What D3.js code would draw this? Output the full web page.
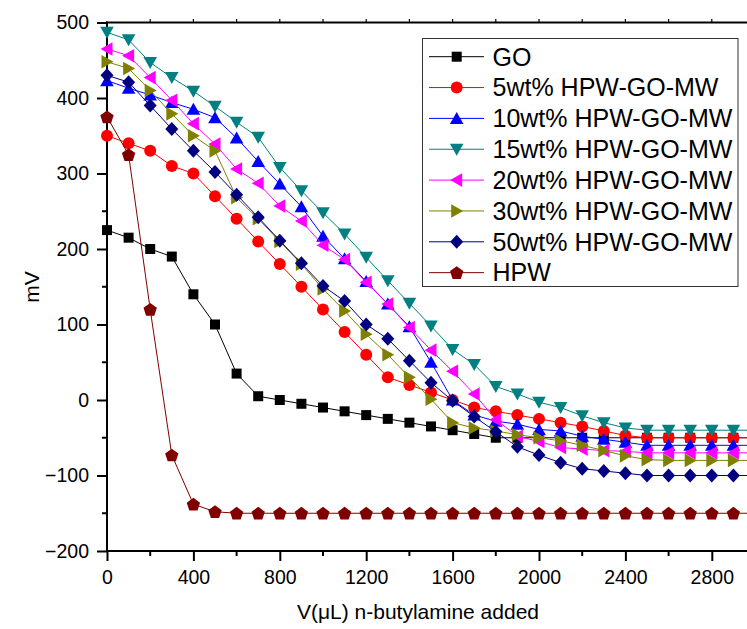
<!DOCTYPE html>
<html><head><meta charset="utf-8">
<script src="https://cdn.jsdelivr.net/npm/d3@7/dist/d3.min.js"></script>
<style>body{margin:0;background:#fff} text{font-family:"Liberation Sans",Arial,sans-serif;fill:#000}</style>
</head><body><svg id="c" width="747" height="629"></svg>
<script>
// ---- data ----
const volumes = [0,100,200,300,400,500,600,700,800,900,1000,1100,1200,1300,1400,1500,1600,1700,1800,1900,2000,2100,2200,2300,2400,2500,2600,2700,2800,2900,3000];
const seriesNames = ["GO","5wt% HPW-GO-MW","10wt% HPW-GO-MW","15wt% HPW-GO-MW","20wt% HPW-GO-MW","30wt% HPW-GO-MW","50wt% HPW-GO-MW","HPW"];
const goValues    = [225,215,200,190,140,100,35,5,0,-5,-10,-15,-20,-25,-30,-35,-40,-45,-50,-50,-50,-50,-50,-50,-50,-50,-50,-50,-50,-50,-50];
const wt5Values   = [350,340,330,310,300,270,240,210,180,150,120,90,60,30,20,10,0,-10,-15,-20,-25,-30,-35,-41,-47,-50,-50,-50,-50,-50,-50];
const wt10Values  = [423,413,404,394,385,374,347,316,286,256,217,187,157,127,97,50,0,-20,-28,-32,-39,-41,-48,-52,-56,-60,-60,-60,-60,-60,-60];
const wt15Values  = [487,477,447,427,409,389,368,348,308,277,248,220,189,158,128,98,67,47,18,8,-3,-10,-21,-30,-37,-40,-40,-40,-40,-40,-40];
const wt20Values  = [465,456,427,397,366,339,306,287,257,237,205,186,156,127,96,66,38,8,-26,-48,-55,-63,-65,-67,-68,-70,-70,-70,-70,-70,-70];
const wt30Values  = [448,439,410,379,350,330,268,240,210,180,147,118,87,60,30,1,-30,-37,-41,-46,-50,-54,-60,-67,-74,-79,-80,-80,-80,-80,-80];
const wt50Values  = [430,421,390,359,330,302,272,242,211,181,151,131,100,81,52,23,-1,-22,-42,-62,-73,-83,-91,-94,-97,-100,-100,-100,-100,-100,-100];
const hpwValues   = [375,325,120,-73,-138,-148,-150,-150,-150,-150,-150,-150,-150,-150,-150,-150,-150,-150,-150,-150,-150,-150,-150,-150,-150,-150,-150,-150,-150,-150,-150];
const xTickLabels = [0,400,800,1200,1600,2000,2400,2800];
const yTickLabels = [-200,-100,0,100,200,300,400,500];

// ---- styles ----
const colors  = ["#000000","#ff0000","#0000ff","#008080","#ff00ff","#808000","#000080","#800000"];
const symbols = ["square","circle","triUp","triDown","triLeft","triRight","diamond","pentagon"];
const allValues = [goValues,wt5Values,wt10Values,wt15Values,wt20Values,wt30Values,wt50Values,hpwValues];

const svg = d3.select("#c");
const x = d3.scaleLinear().domain([0,3000]).range([107,755]);
const y = d3.scaleLinear().domain([-200,500]).range([551,22.5]);

function symPath(t){
  switch(t){
    case "square": return "M-5,-5H5V5H-5Z";
    case "circle": return "M6,0A6,6 0 1,1 -6,0A6,6 0 1,1 6,0Z";
    case "triUp": return "M0,-6.5L6.8,5.5L-6.8,5.5Z";
    case "triDown": return "M0,6.5L6.8,-5.5L-6.8,-5.5Z";
    case "triLeft": return "M-6.5,0L5.5,-6.8L5.5,6.8Z";
    case "triRight": return "M6.5,0L-5.5,-6.8L-5.5,6.8Z";
    case "diamond": return "M0,-7L6.5,0L0,7L-6.5,0Z";
    case "pentagon": {
      const r=7, pts=[];
      for(let k=0;k<5;k++){const a=-Math.PI/2+k*2*Math.PI/5; pts.push([r*Math.cos(a), r*Math.sin(a)+0.6]);}
      return "M"+pts.map(p=>p[0].toFixed(2)+","+p[1].toFixed(2)).join("L")+"Z";
    }
  }
}

// ---- axes ----
const ax = svg.append("g");
const yMinor = d3.range(-200,501,50).filter(v=>v%100!==0);
const left = ax.append("g").attr("transform","translate(107,0)")
  .call(d3.axisLeft(y).tickValues(yTickLabels).tickSize(10).tickPadding(8).tickFormat(d3.format("d")));
left.selectAll("text").style("font-size","19.5px");
left.selectAll(".tick line").attr("stroke-width",2);
left.select(".domain").remove();
ax.append("g").selectAll("line").data(yMinor).join("line")
  .attr("x1",102).attr("x2",107).attr("y1",d=>y(d)).attr("y2",d=>y(d)).attr("stroke","#000").attr("stroke-width",2);
const xMinor = d3.range(200,3001,400);
const bottom = ax.append("g").attr("transform","translate(0,551)")
  .call(d3.axisBottom(x).tickValues(xTickLabels).tickSize(10).tickPadding(9).tickFormat(d3.format("d")));
bottom.selectAll("text").style("font-size","19.5px");
bottom.selectAll(".tick line").attr("stroke-width",2);
bottom.select(".domain").remove();
ax.append("g").selectAll("line").data(xMinor).join("line")
  .attr("x1",d=>x(d)).attr("x2",d=>x(d)).attr("y1",551).attr("y2",556).attr("stroke","#000").attr("stroke-width",2);
ax.append("g").selectAll("line").data(d3.range(200,3001,200)).join("line")
  .attr("x1",d=>x(d)).attr("x2",d=>x(d)).attr("y1",22.5).attr("y2",19).attr("stroke","#000").attr("stroke-width",1.2);
ax.append("line").attr("x1",106).attr("x2",760).attr("y1",22.5).attr("y2",22.5).attr("stroke","#000").attr("stroke-width",2);
ax.append("line").attr("x1",106).attr("x2",760).attr("y1",551).attr("y2",551).attr("stroke","#000").attr("stroke-width",2);
ax.append("line").attr("x1",107).attr("x2",107).attr("y1",21.5).attr("y2",552).attr("stroke","#000").attr("stroke-width",2);

// titles
svg.append("text").attr("transform","translate(39,287) rotate(-90)").attr("text-anchor","middle")
  .style("font-size","21px").text("mV");
svg.append("text").attr("x",418).attr("y",619).attr("text-anchor","middle")
  .style("font-size","21px").text("V(μL) n-butylamine added");

// ---- series ----
const line = d3.line().x((d,i)=>x(volumes[i])).y(d=>y(d));
allValues.forEach((vals,s)=>{
  const g = svg.append("g");
  g.append("path").attr("d",line(vals)).attr("fill","none").attr("stroke",colors[s]).attr("stroke-width",1);
  g.selectAll("path.m").data(vals).join("path").attr("class","m")
    .attr("transform",(d,i)=>`translate(${x(volumes[i])},${y(d)})`)
    .attr("d",symPath(symbols[s])).attr("fill",colors[s]);
});

// ---- legend ----
const lg = svg.append("g");
lg.append("rect").attr("x",422.5).attr("y",38.5).attr("width",315.5).attr("height",248)
  .attr("fill","#fff").attr("stroke","#333").attr("stroke-width",1);
seriesNames.forEach((n,s)=>{
  const cy = 56.7 + s*30.85;
  lg.append("line").attr("x1",429).attr("x2",484).attr("y1",cy).attr("y2",cy).attr("stroke",colors[s]).attr("stroke-width",1);
  lg.append("path").attr("transform",`translate(456.7,${cy})`).attr("d",symPath(symbols[s])).attr("fill",colors[s]);
  lg.append("text").attr("x",492.5).attr("y",cy+8.8).style("font-size","25px").text(n);
});
</script></body></html>
